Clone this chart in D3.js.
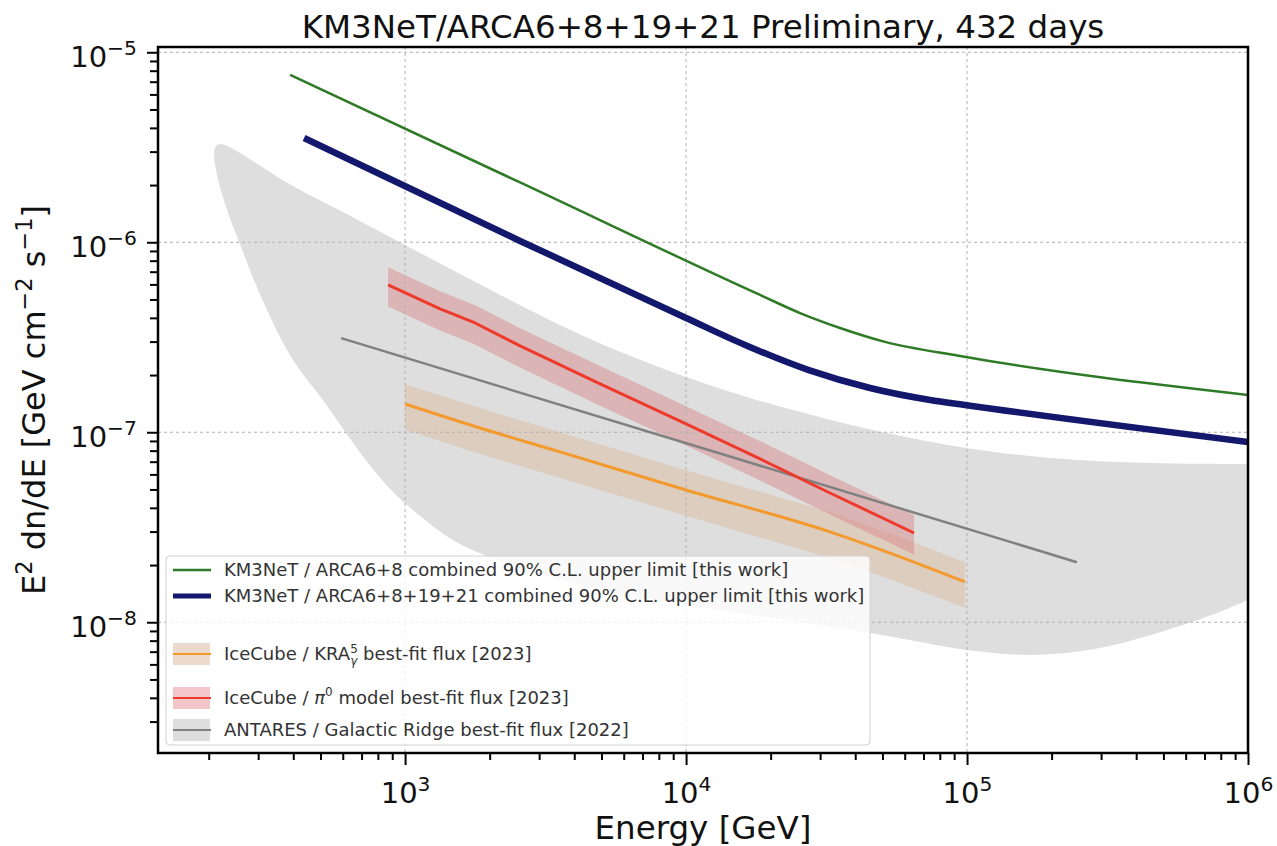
<!DOCTYPE html>
<html>
<head>
<meta charset="utf-8">
<script src="https://cdn.jsdelivr.net/npm/d3@7"></script>
<style>
  body { margin: 0; background: #fff; }
  text { font-family: "DejaVu Sans", sans-serif; }
</style>
</head>
<body>
<div class="main"></div>
<script>
// Limites de flux et modèles : énergie en GeV, E^2 dN/dE en GeV cm^-2 s^-1

// KM3NeT ARCA6+8
const arca68E    = [390, 2566, 1.834e4, 2.545e4, 3.532e4, 5.108e4, 9.443e4, 1.0e6];
const arca68Flux = [7.6e-6, 2.064e-6, 5.28e-7, 4.24e-7, 3.54e-7, 2.99e-7, 2.52e-7, 1.572e-7];

// KM3NeT ARCA6+8+19+21
const arcaAllE    = [437, 2566, 1.0e4, 1.622e4, 2.718e4, 4.517e4, 7.385e4, 9.838e4, 1.0e6];
const arcaAllFlux = [3.54e-6, 1.016e-6, 3.996e-7, 2.88e-7, 2.13e-7, 1.71e-7, 1.479e-7, 1.392e-7, 8.89e-8];

// IceCube pi0 model
const pi0E     = [870, 1332, 1775, 2566, 4943, 1.0e4, 1.834e4, 3.254e4, 6.478e4];
const pi0Flux  = [5.96e-7, 4.46e-7, 3.76e-7, 2.85e-7, 1.796e-7, 1.106e-7, 7.24e-8, 4.79e-8, 2.95e-8];
const pi0Upper = [7.39e-7, 5.53e-7, 4.66e-7, 3.53e-7, 2.23e-7, 1.37e-7, 8.98e-8, 5.94e-8, 3.66e-8];
const pi0Lower = [4.59e-7, 3.43e-7, 2.90e-7, 2.19e-7, 1.38e-7, 8.52e-8, 5.57e-8, 3.69e-8, 2.27e-8];

// IceCube KRA gamma 5
const kraE     = [1000, 1849, 3562, 1.0e4, 3.254e4, 5.775e4, 9.84e4];
const kraFlux  = [1.409e-7, 1.053e-7, 7.88e-8, 4.97e-8, 2.99e-8, 2.21e-8, 1.63e-8];
const kraUpper = [1.79e-7, 1.34e-7, 1.0e-7, 6.31e-8, 3.80e-8, 2.81e-8, 2.07e-8];
const kraLower = [1.03e-7, 7.69e-8, 5.75e-8, 3.63e-8, 2.18e-8, 1.61e-8, 1.19e-8];

// ANTARES Galactic Ridge : ajustement et bande
const antaresE    = [592, 2.46e5];
const antaresFlux = [3.13e-7, 2.07e-8];
const antaresTip  = [212.6, 3.21e-6];
const antaresUpperE    = [221.4, 392.9, 680.3, 1544, 3562, 5823, 1.0e4, 1.689e4, 2.403e4, 4.30e4, 9.443e4, 1.974e5, 4.479e5, 1.0e6, 1.53e6];
const antaresUpperFlux = [3.29e-6, 2.00e-6, 1.31e-6, 6.89e-7, 3.67e-7, 2.65e-7, 1.955e-7, 1.515e-7, 1.31e-7, 1.053e-7, 8.37e-8, 7.32e-8, 6.89e-8, 6.81e-8, 6.81e-8];
const antaresLowerE    = [209.1, 216.1, 234.5, 260.9, 299.9, 392.9, 519.2, 680.3, 891.5, 1178, 1544, 2566, 4943, 1.121e4, 2.545e4, 4.517e4, 6.805e4, 1.0e5, 1.718e5, 2.973e5, 5.149e5, 7.758e5, 1.0e6, 1.53e6];
const antaresLowerFlux = [2.99e-6, 2.13e-6, 1.426e-6, 9.45e-7, 5.61e-7, 2.49e-7, 1.426e-7, 8.07e-8, 4.97e-8, 3.455e-8, 2.615e-8, 1.93e-8, 1.479e-8, 1.204e-8, 1.004e-8, 8.78e-9, 7.88e-9, 7.15e-9, 6.73e-9, 7.32e-9, 9.11e-9, 1.119e-8, 1.31e-8, 1.67e-8];

// Axes
const xDomain = [132, 1e6];
const yDomain = [2.05e-9, 1.066e-5];
const xMajor = [1e3, 1e4, 1e5, 1e6];
const yMajor = [1e-8, 1e-7, 1e-6, 1e-5];

const legendLabels = [
  "KM3NeT / ARCA6+8 combined 90% C.L. upper limit [this work]",
  "KM3NeT / ARCA6+8+19+21 combined 90% C.L. upper limit [this work]",
  "IceCube / KRA",
  "IceCube / ",
  "ANTARES / Galactic Ridge best-fit flux [2022]"
];

// Dimensions et marges
const margin = { top: 47, right: 29, bottom: 93, left: 158 };
const width = 1277 - margin.left - margin.right;
const height = 846 - margin.top - margin.bottom;

const svgRoot = d3.select('.main')
  .append('svg')
    .attr('width', 1277)
    .attr('height', 846);
const svg = svgRoot.append('g')
    .attr('transform', 'translate(' + margin.left + ',' + margin.top + ')');

const x = d3.scaleLog().domain(xDomain).range([0, width]);
const y = d3.scaleLog().domain(yDomain).range([height, 0]);

const isMajor = d => Math.abs(Math.log10(d) - Math.round(Math.log10(d))) < 1e-6;
const xMinor = x.ticks().filter(d => !isMajor(d));
const yMinor = y.ticks().filter(d => !isMajor(d));

svg.append('clipPath').attr('id', 'clip')
  .append('rect').attr('width', width).attr('height', height);

const plot = svg.append('g').attr('clip-path', 'url(#clip)');

const pairs = (es, fs) => es.map((e, i) => [e, fs[i]]);

// Bandes
const area = d3.area()
  .x(d => x(d[0]))
  .y0(d => y(d[1]))
  .y1(d => y(d[2]));

// bande ANTARES : contour fermé (bord supérieur puis bord inférieur)
const antaresPoly = [antaresTip]
  .concat(pairs(antaresUpperE, antaresUpperFlux))
  .concat(pairs(antaresLowerE, antaresLowerFlux).reverse());
plot.append('path')
  .datum(antaresPoly)
  .attr('fill', '#dedede')
  .attr('d', d3.line().x(d => x(d[0])).y(d => y(d[1])).curve(d3.curveCatmullRomClosed.alpha(0.5)));

plot.append('path')
  .datum(kraE.map((e, i) => [e, kraLower[i], kraUpper[i]]))
  .attr('fill', '#d9b89a')
  .attr('fill-opacity', 0.45)
  .attr('d', area);

plot.append('path')
  .datum(pi0E.map((e, i) => [e, pi0Lower[i], pi0Upper[i]]))
  .attr('fill', '#d8767a')
  .attr('fill-opacity', 0.4)
  .attr('d', area);

// Grille
const grid = plot.append('g');
grid.selectAll('.gx').data(xMajor).join('line')
  .attr('x1', d => x(d)).attr('x2', d => x(d))
  .attr('y1', 0).attr('y2', height)
  .attr('stroke', '#b0b0b0').attr('stroke-width', 1).attr('stroke-dasharray', '3,3');
grid.selectAll('.gy').data(yMajor).join('line')
  .attr('x1', 0).attr('x2', width)
  .attr('y1', d => y(d)).attr('y2', d => y(d))
  .attr('stroke', '#b0b0b0').attr('stroke-width', 1).attr('stroke-dasharray', '3,3');

// Courbes
const smooth = d3.line().x(d => x(d[0])).y(d => y(d[1])).curve(d3.curveMonotoneX);
const straight = d3.line().x(d => x(d[0])).y(d => y(d[1]));

function drawLine(es, fs, color, w, gen) {
  plot.append('path')
    .datum(pairs(es, fs))
    .attr('fill', 'none')
    .attr('stroke', color)
    .attr('stroke-width', w)
    .attr('stroke-linejoin', 'round')
    .attr('d', gen);
}
drawLine(antaresE, antaresFlux, '#808080', 2.5, straight);
drawLine(kraE, kraFlux, '#f39a2e', 3, smooth);
drawLine(pi0E, pi0Flux, '#ee3a2c', 3, straight);
drawLine(arcaAllE, arcaAllFlux, '#13186c', 6.5, smooth);
drawLine(arca68E, arca68Flux, '#2f7a26', 2.5, smooth);

// Axes : graduations mineures et majeures
function supLabels(sel) {
  sel.selectAll('.tick text').each(function(d) {
    const e = Math.round(Math.log10(d));
    const t = d3.select(this);
    t.text(null);
    t.append('tspan').text('10');
    t.append('tspan').attr('font-size', '0.7em').attr('dy', '-0.6em')
      .text(e < 0 ? '\u2212' + (-e) : e);
  });
}

const axisStyle = g => {
  g.select('.domain').remove();
  g.selectAll('.tick line').attr('stroke', '#000').attr('stroke-width', 2);
};

svg.append('g')
  .attr('transform', 'translate(0,' + height + ')')
  .call(d3.axisBottom(x).tickValues(xMinor).tickSize(7).tickFormat(''))
  .call(axisStyle);
svg.append('g')
  .attr('transform', 'translate(0,' + height + ')')
  .call(d3.axisBottom(x).tickValues(xMajor).tickSize(12))
  .call(axisStyle)
  .call(g => g.selectAll('.tick text')
    .attr('y', 50).attr('dy', null)
    .attr('font-size', 29).attr('fill', '#111'))
  .call(supLabels);

svg.append('g')
  .call(d3.axisLeft(y).tickValues(yMinor).tickSize(8).tickFormat(''))
  .call(axisStyle);
svg.append('g')
  .call(d3.axisLeft(y).tickValues(yMajor).tickSize(11))
  .call(axisStyle)
  .call(g => g.selectAll('.tick text')
    .attr('x', -21).attr('dy', '0.5em')
    .attr('font-size', 29).attr('fill', '#111'))
  .call(supLabels);

// Cadre
svg.append('rect')
  .attr('width', width).attr('height', height)
  .attr('fill', 'none').attr('stroke', '#000').attr('stroke-width', 2.5);

// Titre
svg.append('text')
  .attr('x', width / 2).attr('y', -9)
  .attr('text-anchor', 'middle')
  .attr('font-size', 32.5).attr('fill', '#111')
  .text('KM3NeT/ARCA6+8+19+21 Preliminary, 432 days');

// Titre de l'axe x
svg.append('text')
  .attr('x', width / 2).attr('y', height + 86)
  .attr('text-anchor', 'middle')
  .attr('font-size', 32.5).attr('fill', '#111')
  .text('Energy [GeV]');

// Titre de l'axe y
const yl = svg.append('text')
  .attr('transform', 'rotate(-90)')
  .attr('x', -height / 2).attr('y', -113)
  .attr('text-anchor', 'middle')
  .attr('font-size', 32).attr('fill', '#111');
yl.append('tspan').text('E');
yl.append('tspan').attr('font-size', '0.7em').attr('dy', '-0.6em').text('2');
yl.append('tspan').attr('dy', '0.42em').text(' dn/dE [GeV cm');
yl.append('tspan').attr('font-size', '0.7em').attr('dy', '-0.6em').text('\u22122');
yl.append('tspan').attr('dy', '0.42em').text(' s');
yl.append('tspan').attr('font-size', '0.7em').attr('dy', '-0.6em').text('\u22121');
yl.append('tspan').attr('dy', '0.42em').text(']');

// Légende
const lg = svg.append('g').attr('transform', 'translate(8,509)');
lg.append('rect')
  .attr('width', 704).attr('height', 189).attr('rx', 4)
  .attr('fill', '#fff').attr('fill-opacity', 0.8)
  .attr('stroke', '#d0d0d0').attr('stroke-width', 1);

const rowY = [14, 40, 98, 142, 174];
const lfs = 18;

function legendLine(yy, color, w) {
  lg.append('line').attr('x1', 7).attr('x2', 45).attr('y1', yy).attr('y2', yy)
    .attr('stroke', color).attr('stroke-width', w);
}
function legendPatch(yy, color, op) {
  lg.append('rect').attr('x', 7).attr('y', yy - 11).attr('width', 37).attr('height', 22)
    .attr('fill', color).attr('fill-opacity', op);
}
function legendText(yy) {
  return lg.append('text').attr('x', 58).attr('y', yy + 6)
    .attr('font-size', lfs).attr('fill', '#333');
}

legendLine(rowY[0], '#2f7a26', 2.5);
legendText(rowY[0]).text(legendLabels[0]);

legendLine(rowY[1], '#13186c', 5);
legendText(rowY[1]).text(legendLabels[1]);

legendPatch(rowY[2], '#d9b89a', 0.5);
legendLine(rowY[2], '#f39a2e', 2);
const t3 = legendText(rowY[2]);
t3.append('tspan').text(legendLabels[2]);
t3.append('tspan').attr('font-size', 12).attr('dy', -7).text('5');
t3.append('tspan').attr('font-size', 12).attr('dx', -7.6).attr('dy', 12).attr('font-style', 'italic').text('γ');
t3.append('tspan').attr('dy', -5).text(' best-fit flux [2023]');

legendPatch(rowY[3], '#e88f93', 0.5);
legendLine(rowY[3], '#ee3a2c', 2);
const t4 = legendText(rowY[3]);
t4.append('tspan').text(legendLabels[3]);
t4.append('tspan').attr('font-style', 'italic').text('π');
t4.append('tspan').attr('font-size', 12).attr('dy', -8).text('0');
t4.append('tspan').attr('dy', 8).text(' model best-fit flux [2023]');

legendPatch(rowY[4], '#dedede', 1);
legendLine(rowY[4], '#808080', 2);
legendText(rowY[4]).text(legendLabels[4]);
</script>
</body>
</html>
